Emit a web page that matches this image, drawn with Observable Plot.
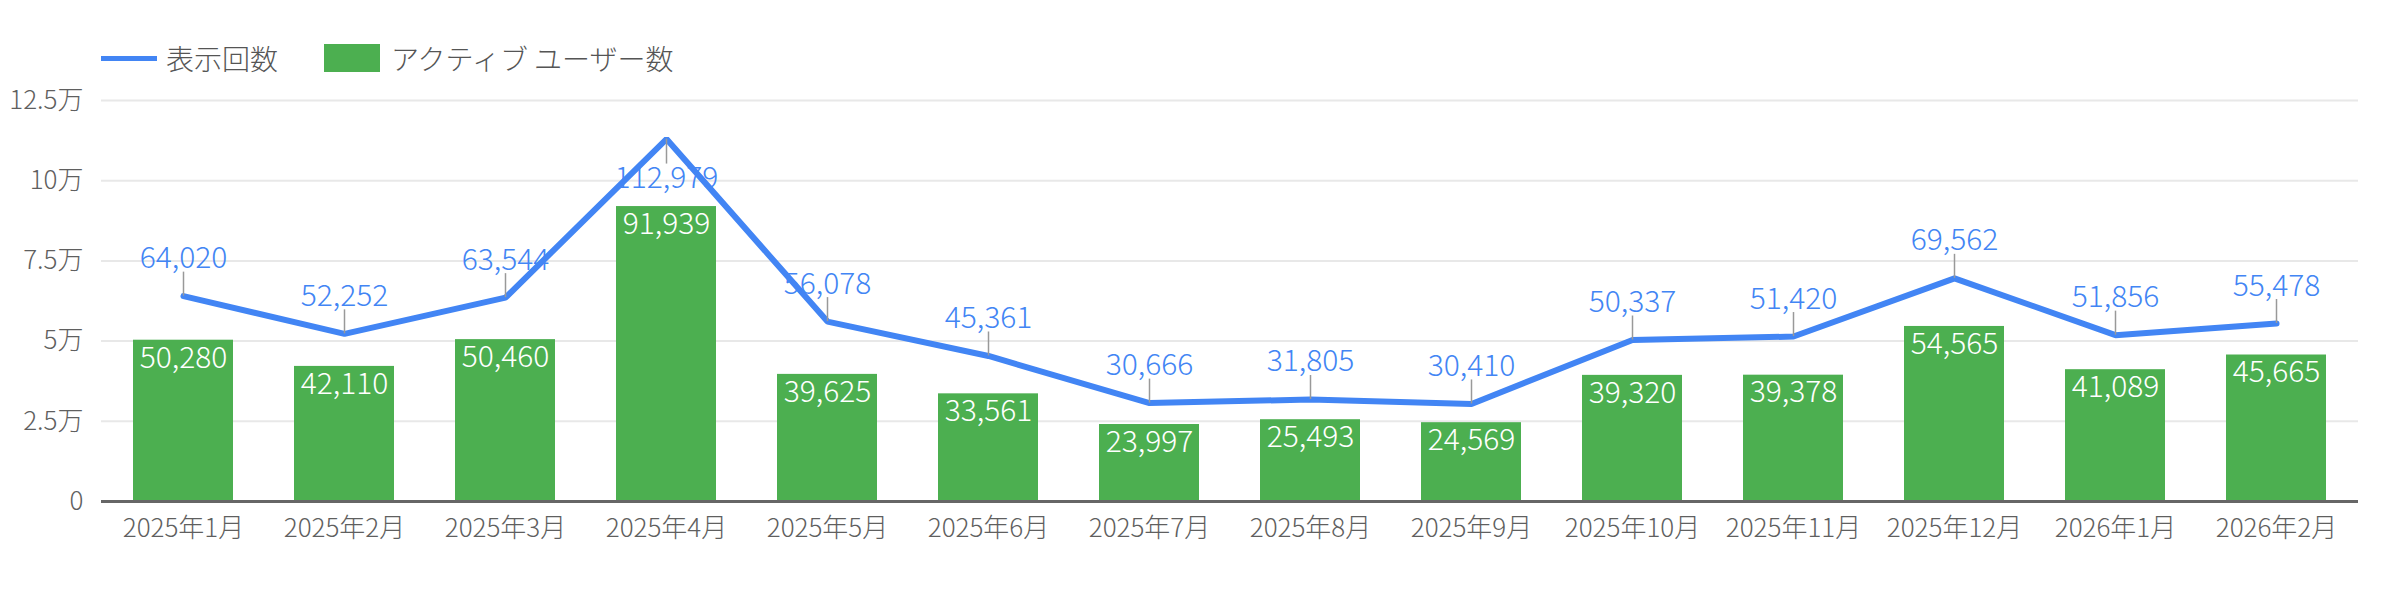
<!DOCTYPE html>
<html>
<head>
<meta charset="utf-8">
<script src="https://cdn.jsdelivr.net/npm/d3@7"></script>
<script src="https://cdn.jsdelivr.net/npm/@observablehq/plot@0.6"></script>
<style>
  body { margin: 0; background: #fff; font-family: "Noto Sans CJK JP", "Noto Sans", sans-serif; font-weight: 300; }
  .legend { box-sizing: border-box; height: 80px; padding: 36px 0 0 101px; display: flex; align-items: center; font-size: 28px; color: #555; }
  .legend .item { display: flex; align-items: center; margin-right: 46px; }
  .legend .line { width: 56px; height: 5px; background: #4285f4; margin-right: 9px; }
  .legend .box { width: 56px; height: 28px; background: #4caf50; margin-right: 11px; }
</style>
</head>
<body>
<div class="legend">
  <div class="item"><span class="line"></span><span>表示回数</span></div>
  <div class="item"><span class="box"></span><span>アクティブ ユーザー数</span></div>
</div>
<div id="chart"></div>
<script>
const months = ["2025年1月", "2025年2月", "2025年3月", "2025年4月", "2025年5月", "2025年6月", "2025年7月",
  "2025年8月", "2025年9月", "2025年10月", "2025年11月", "2025年12月", "2026年1月", "2026年2月"];
const views = [64020, 52252, 63544, 112979, 56078, 45361, 30666, 31805, 30410, 50337, 51420, 69562, 51856, 55478];
const users = [50280, 42110, 50460, 91939, 39625, 33561, 23997, 25493, 24569, 39320, 39378, 54565, 41089, 45665];
const yTicks = [0, 25000, 50000, 75000, 100000, 125000];

const yMax = 125000;
const data = months.map((m, i) => ({month: m, views: views[i], users: users[i]}));
// labels that would run off the top go under the point instead
const above = data.filter(d => d.views < yMax * 0.85);
const below = data.filter(d => d.views >= yMax * 0.85);
const fmt = d3.format(",");
const yFmt = v => v === 0 ? "0" : `${v / 10000}万`;

const chart = Plot.plot({
  width: 2408,
  height: 524,
  marginTop: 20,
  marginLeft: 101,
  marginRight: 50,
  marginBottom: 103,
  style: {fontFamily: "'Noto Sans CJK JP', sans-serif", fontSize: "26px", fontWeight: 300, color: "#5f5f5f", background: "#fff"},
  x: {domain: months, paddingInner: 0.38, paddingOuter: 0.19, label: null},
  y: {domain: [0, yMax], label: null},
  marks: [
    Plot.ruleY(yTicks.slice(1), {stroke: "#e8e8e8", strokeWidth: 2}),
    Plot.axisY(yTicks, {tickSize: 0, tickPadding: 18, tickFormat: yFmt, label: null, fontSize: 26}),
    Plot.axisX({tickSize: 0, tickPadding: 17, label: null, fontSize: 26}),
    Plot.barY(data, {x: "month", y: "users", fill: "#4caf50"}),
    Plot.ruleY([0], {stroke: "#666", strokeWidth: 3}),
    Plot.line(data, {x: "month", y: "views", stroke: "#4285f4", strokeWidth: 6, strokeLinejoin: "miter"}),
    Plot.ruleX(above, {x: "month", y1: "views", y2: "views", insetTop: -24, stroke: "#999", strokeWidth: 1.5}),
    Plot.ruleX(below, {x: "month", y1: "views", y2: "views", insetBottom: -25, stroke: "#999", strokeWidth: 1.5}),
    Plot.text(data, {x: "month", y: "users", text: d => fmt(d.users), lineAnchor: "top", dy: 6,
      fill: "white", fontSize: 30}),
    Plot.text(above, {x: "month", y: "views", text: d => fmt(d.views), lineAnchor: "bottom", dy: -28,
      fill: "#4285f4", fontSize: 30}),
    Plot.text(below, {x: "month", y: "views", text: d => fmt(d.views), lineAnchor: "top", dy: 28,
      fill: "#4285f4", fontSize: 30})
  ]
});
document.getElementById("chart").append(chart);
</script>
</body>
</html>
